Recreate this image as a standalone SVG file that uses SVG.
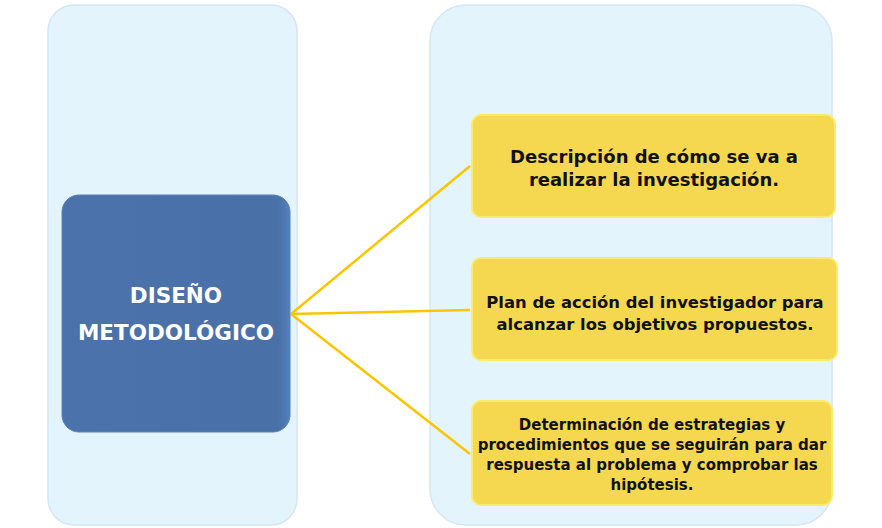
<svg xmlns="http://www.w3.org/2000/svg" width="882" height="528" viewBox="0 0 882 528">
<defs>
<style>
.panel{fill:#e3f4fc;stroke:#d6e6f2;stroke-width:1.5}
.yb{fill:#f5d84f;stroke:#f9ec6a;stroke-width:2}
.t{font-family:"DejaVu Sans","Liberation Sans",sans-serif;font-weight:bold;text-anchor:middle;fill:#111}
.w{fill:#fff;font-size:21.5px}
.c{stroke:#fcc500;stroke-width:2.5;fill:none}
</style>
<linearGradient id="bg" x1="0" y1="0" x2="1" y2="0">
<stop offset="0" stop-color="#4b72aa"/><stop offset="0.95" stop-color="#4a70a8"/><stop offset="1" stop-color="#5580bd"/>
</linearGradient>
</defs>
<rect width="882" height="528" fill="#fff"/>
<g id="panel-left"><rect class="panel" x="48" y="5" width="249" height="520" rx="26"/></g>
<g id="panel-right"><rect class="panel" x="430" y="5" width="402" height="520" rx="36"/></g>
<g id="connectors">
<line class="c" x1="291" y1="314" x2="470" y2="166"/>
<line class="c" x1="291" y1="314" x2="470" y2="310"/>
<line class="c" x1="291" y1="314" x2="470" y2="454"/>
</g>
<g id="node-diseno">
<rect x="62" y="195" width="228" height="237" rx="17" fill="url(#bg)" stroke="#5a80b8" stroke-width="1"/>
<text class="t w" x="176" y="303">DISEÑO</text>
<text class="t w" x="176" y="340">METODOLÓGICO</text>
</g>
<g id="node-1">
<rect class="yb" x="472" y="115" width="363" height="102" rx="9"/>
<text class="t" x="654" y="163" font-size="18">Descripción de cómo se va a</text>
<text class="t" x="654" y="186" font-size="18">realizar la investigación.</text>
</g>
<g id="node-2">
<rect class="yb" x="472" y="258" width="365" height="102" rx="9"/>
<text class="t" x="655" y="308" font-size="16.4">Plan de acción del investigador para</text>
<text class="t" x="655" y="330" font-size="16.4">alcanzar los objetivos propuestos.</text>
</g>
<g id="node-3">
<rect class="yb" x="472" y="401" width="360" height="104" rx="9"/>
<text class="t" x="652" y="430" font-size="15">Determinación  de estrategias  y</text>
<text class="t" x="652" y="450" font-size="15">procedimientos  que se seguirán para dar</text>
<text class="t" x="652" y="470" font-size="15">respuesta al problema y comprobar las</text>
<text class="t" x="652" y="490" font-size="15">hipótesis.</text>
</g>
</svg>
